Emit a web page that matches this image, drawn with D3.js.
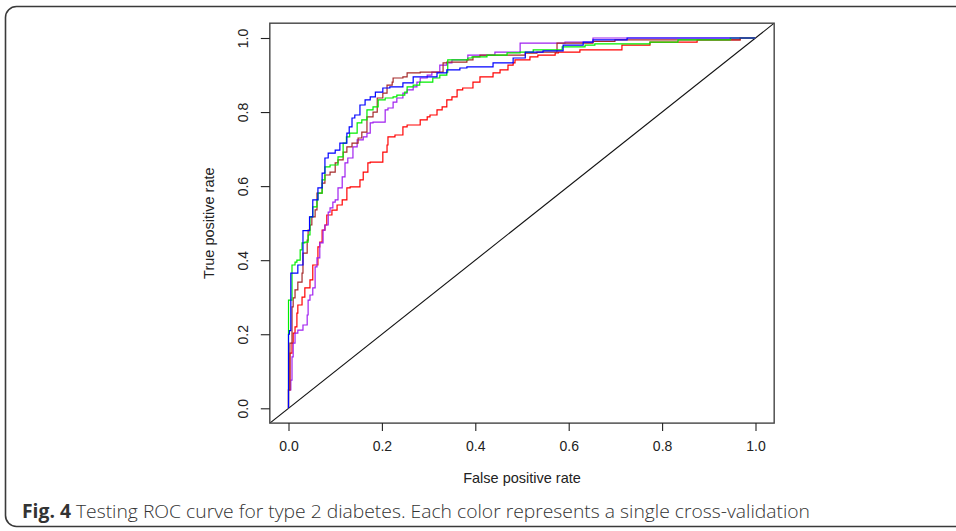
<!DOCTYPE html>
<html><head><meta charset="utf-8">
<script src="https://cdn.jsdelivr.net/npm/d3@7"></script>
<style>body{margin:0;background:#fff;}svg{display:block;}</style>
</head><body>
<svg id="chart" width="956" height="531"></svg>
<script>
// ---- data (FPR, TPR) per cross-validation fold ----
const blueROC = [[0,0],[0,0.05],[0.002,0.20],[0.005,0.21],[0.02,0.365],[0.031,0.387],[0.045,0.48],[0.052,0.517],[0.063,0.563],[0.072,0.595],[0.078,0.635],[0.085,0.676],[0.10,0.689],[0.11,0.697],[0.125,0.716],[0.13,0.743],[0.136,0.76],[0.142,0.784],[0.153,0.792],[0.164,0.819],[0.175,0.833],[0.186,0.841],[0.202,0.854],[0.217,0.865],[0.245,0.868],[0.267,0.879],[0.318,0.895],[0.339,0.906],[0.367,0.914],[0.382,0.919],[0.438,0.922],[0.481,0.933],[0.507,0.946],[0.545,0.962],[0.588,0.965],[0.631,0.981],[0.652,0.989],[0.725,0.995],[1,1]];
const greenROC = [[0,0],[0,0.24],[0.0075,0.292],[0.014,0.387],[0.018,0.395],[0.025,0.40],[0.029,0.428],[0.035,0.447],[0.042,0.449],[0.046,0.468],[0.052,0.517],[0.061,0.544],[0.063,0.563],[0.072,0.581],[0.078,0.617],[0.089,0.652],[0.106,0.657],[0.117,0.679],[0.124,0.716],[0.131,0.733],[0.147,0.743],[0.157,0.771],[0.168,0.779],[0.181,0.806],[0.192,0.814],[0.207,0.833],[0.224,0.838],[0.232,0.841],[0.249,0.846],[0.254,0.854],[0.267,0.868],[0.281,0.873],[0.309,0.881],[0.324,0.892],[0.339,0.90],[0.341,0.908],[0.384,0.941],[0.393,0.946],[0.425,0.949],[0.468,0.954],[0.496,0.960],[0.524,0.962],[0.586,0.968],[0.635,0.976],[0.656,0.981],[0.774,0.984],[0.834,0.989],[0.946,0.995],[1,1]];
const brownROC = [[0,0],[0.003,0.05],[0.003,0.112],[0.0075,0.176],[0.01,0.274],[0.014,0.298],[0.02,0.32],[0.029,0.341],[0.031,0.365],[0.04,0.419],[0.042,0.454],[0.046,0.481],[0.05,0.495],[0.057,0.517],[0.061,0.536],[0.072,0.581],[0.078,0.608],[0.089,0.63],[0.10,0.638],[0.106,0.663],[0.117,0.671],[0.125,0.692],[0.136,0.706],[0.149,0.716],[0.157,0.73],[0.168,0.746],[0.181,0.787],[0.19,0.80],[0.202,0.838],[0.211,0.851],[0.222,0.873],[0.224,0.881],[0.245,0.892],[0.254,0.895],[0.282,0.906],[0.331,0.908],[0.339,0.933],[0.382,0.935],[0.395,0.941],[0.41,0.949],[0.507,0.954],[0.532,0.959],[0.575,0.962],[0.652,0.986],[0.699,0.991],[0.967,0.995],[0.98,1],[1,1]];
const purpleROC = [[0,0],[0.005,0.05],[0.0075,0.076],[0.01,0.139],[0.014,0.176],[0.02,0.203],[0.031,0.211],[0.04,0.225],[0.042,0.252],[0.046,0.292],[0.052,0.306],[0.057,0.325],[0.061,0.382],[0.067,0.406],[0.074,0.447],[0.078,0.481],[0.085,0.495],[0.089,0.53],[0.095,0.541],[0.10,0.557],[0.106,0.563],[0.115,0.595],[0.121,0.625],[0.127,0.663],[0.138,0.676],[0.147,0.706],[0.16,0.725],[0.168,0.733],[0.175,0.743],[0.181,0.771],[0.207,0.773],[0.213,0.806],[0.224,0.811],[0.232,0.827],[0.245,0.838],[0.254,0.851],[0.267,0.86],[0.275,0.868],[0.282,0.881],[0.297,0.892],[0.307,0.90],[0.324,0.908],[0.339,0.927],[0.35,0.933],[0.367,0.941],[0.384,0.941],[0.442,0.954],[0.496,0.962],[0.592,0.986],[0.652,0.989],[0.72,1],[1,1]];
const redROC = [[0,0],[0.003,0.049],[0.0075,0.149],[0.01,0.176],[0.014,0.203],[0.018,0.22],[0.02,0.257],[0.029,0.279],[0.035,0.30],[0.046,0.325],[0.052,0.347],[0.063,0.387],[0.067,0.436],[0.072,0.449],[0.078,0.481],[0.082,0.495],[0.093,0.522],[0.104,0.535],[0.115,0.549],[0.125,0.563],[0.132,0.595],[0.153,0.598],[0.16,0.617],[0.17,0.638],[0.175,0.663],[0.202,0.665],[0.211,0.692],[0.213,0.711],[0.228,0.733],[0.245,0.738],[0.254,0.76],[0.282,0.765],[0.297,0.779],[0.303,0.787],[0.318,0.792],[0.329,0.806],[0.339,0.814],[0.35,0.833],[0.361,0.841],[0.373,0.86],[0.395,0.865],[0.41,0.881],[0.438,0.895],[0.453,0.906],[0.47,0.914],[0.481,0.927],[0.485,0.933],[0.517,0.941],[0.534,0.949],[0.571,0.954],[0.578,0.96],[0.624,0.962],[0.714,0.968],[0.774,0.981],[0.875,0.989],[0.967,0.995],[0.992,1],[1,1]];

const seriesNames = ["red","purple","brown","green","blue"];
const seriesColors = ["#ff0000","#a020f0","#a52a2a","#00ee00","#0000ff"];
const seriesData = [redROC, purpleROC, brownROC, greenROC, blueROC];
const xTicks = [0,0.2,0.4,0.6,0.8,1.0];
const yTicks = [0,0.2,0.4,0.6,0.8,1.0];
const xTitle = "False positive rate";
const yTitle = "True positive rate";
const captionBold = "Fig. 4";
const captionText = " Testing ROC curve for type 2 diabetes. Each color represents a single cross-validation";

// ---- layout ----
const svg = d3.select("#chart");
const x = d3.scaleLinear().domain([0,1]).range([288.5,755.5]);
const y = d3.scaleLinear().domain([0,1]).range([408.3,38]);

// outer rounded border
svg.append("rect").attr("x",5.5).attr("y",6.5).attr("width",1000).attr("height",520)
  .attr("rx",11).attr("fill","none").attr("stroke","#3a3a3a").attr("stroke-width",1.6);

const L = x(-0.04), R = x(1.04), T = y(1.04), B = y(-0.04);

svg.append("clipPath").attr("id","clip").append("rect")
  .attr("x",L).attr("y",T).attr("width",R-L).attr("height",B-T);
const plot = svg.append("g").attr("clip-path","url(#clip)");

// diagonal reference line
plot.append("line")
  .attr("x1",x(-0.04)).attr("y1",y(-0.04)).attr("x2",x(1.04)).attr("y2",y(1.04))
  .attr("stroke","#111").attr("stroke-width",1.1);

const line = d3.line().x(d=>x(d[0])).y(d=>y(d[1])).curve(d3.curveStepBefore);
seriesData.forEach((s,i)=>{
  plot.append("path").datum(s).attr("d",line)
    .attr("fill","none").attr("stroke",seriesColors[i]).attr("stroke-width",1.2);
});

// frame
svg.append("rect").attr("x",L).attr("y",T).attr("width",R-L).attr("height",B-T)
  .attr("fill","none").attr("stroke","#444").attr("stroke-width",1.4);

// axes
const fmt = d3.format(".1f");
const font = "'Liberation Sans', Arial, sans-serif";
const xAxis = svg.append("g").attr("transform",`translate(0,${B})`)
  .call(d3.axisBottom(x).tickValues(xTicks).tickFormat(fmt).tickSize(8).tickPadding(10));
const yAxis = svg.append("g").attr("transform",`translate(${L},0)`)
  .call(d3.axisLeft(y).tickValues(yTicks).tickFormat(fmt).tickSize(9));
[xAxis,yAxis].forEach(a=>{
  a.select(".domain").remove();
  a.selectAll(".tick line").attr("stroke","#222").attr("stroke-width",1.1);
  a.selectAll("text").attr("font-family",font).attr("font-size",14).attr("fill","#222");
});
xAxis.selectAll("text").attr("dy","0.71em");
yAxis.selectAll(".tick text")
  .attr("transform","rotate(-90)")
  .attr("x",0).attr("y",-22).attr("dy","0").attr("text-anchor","middle");

// axis titles
svg.append("text").attr("x",x(0.5)).attr("y",483).attr("text-anchor","middle")
  .attr("font-family",font).attr("font-size",14.5).attr("fill","#222").text(xTitle);
svg.append("text").attr("transform",`translate(214,${y(0.5)}) rotate(-90)`).attr("text-anchor","middle")
  .attr("font-family",font).attr("font-size",14.5).attr("fill","#222").text(yTitle);

// caption
const cap = svg.append("text").attr("x",22).attr("y",518)
  .attr("font-family","'Open Sans', 'Noto Sans', sans-serif").attr("font-size",19).attr("fill","#333")
  .attr("textLength",788).attr("lengthAdjust","spacingAndGlyphs");
cap.append("tspan").attr("font-weight","bold").text(captionBold);
cap.append("tspan").attr("font-weight","300").text(captionText);
</script>
</body></html>
